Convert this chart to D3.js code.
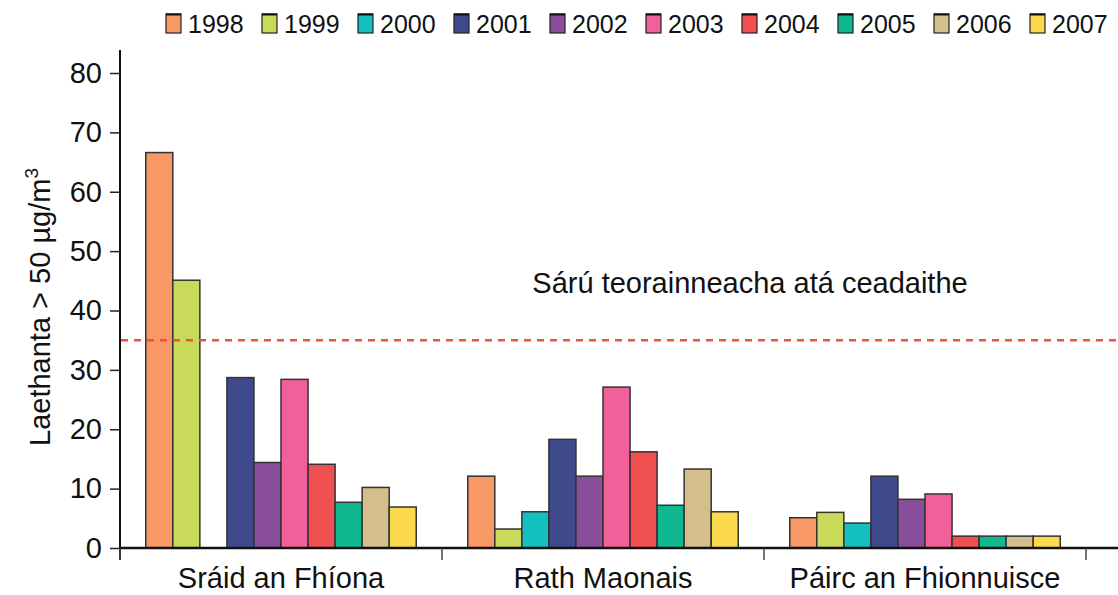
<!DOCTYPE html>
<html>
<head>
<meta charset="utf-8">
<script src="https://cdn.jsdelivr.net/npm/d3@7"></script>
<style>
  body { margin: 0; background: #fff; }
  svg { display: block; font-family: "Liberation Sans", Arial, sans-serif; }
</style>
</head>
<body>
<svg id="chart"></svg>
<script>
const sites = ['Sráid an Fhíona', 'Rath Maonais', 'Páirc an Fhionnuisce'];
const years = ['1998', '1999', '2000', '2001', '2002', '2003', '2004', '2005', '2006', '2007'];
const colors = ['#f79866', '#c9d95a', '#14bfc0', '#3f4a8c', '#8a4f9c', '#f1609a', '#f15050', '#10b890', '#d4bf8c', '#fcd84c'];
// days over 50 µg/m3, one row per site, one value per year
const sraidAnFhiona = [66.6, 45.1, 0, 28.7, 14.4, 28.4, 14.1, 7.7, 10.2, 6.9];
const rathMaonais = [12.1, 3.2, 6.1, 18.3, 12.1, 27.1, 16.2, 7.2, 13.3, 6.1];
const pairc = [5.1, 6.0, 4.2, 12.1, 8.2, 9.1, 2.0, 2.0, 2.0, 2.0];
const values = [sraidAnFhiona, rathMaonais, pairc];
const limit = 35;
const yTicks = [0, 10, 20, 30, 40, 50, 60, 70, 80];

const width = 1118;
const height = 595;
const font = '"Liberation Sans", Arial, sans-serif';
const svg = d3.select('#chart').attr('width', width).attr('height', height);

const x0 = d3.scaleBand().domain(sites).range([120, 1086]).padding(0);
const x1 = d3.scaleBand().domain(years)
  .range([x0.bandwidth() * 0.08, x0.bandwidth() * 0.92]).padding(0);
const y = d3.scaleLinear().domain([0, 80]).range([548, 73]);
const color = d3.scaleOrdinal().domain(years).range(colors);

// bars
const groups = svg.append('g').selectAll('g')
  .data(sites)
  .join('g')
  .attr('transform', (d) => `translate(${x0(d)},0)`);

groups.selectAll('rect')
  .data((d, i) => years.map((yr, j) => ({ year: yr, value: values[i][j] })))
  .join('rect')
  .filter((d) => d.value > 0)
  .attr('x', (d) => x1(d.year))
  .attr('y', (d) => y(d.value))
  .attr('width', x1.bandwidth())
  .attr('height', (d) => y(0) - y(d.value))
  .attr('fill', (d) => color(d.year))
  .attr('stroke', '#333')
  .attr('stroke-width', 1.5);

// y axis
const yAxis = svg.append('g')
  .attr('transform', 'translate(120,0)')
  .call(d3.axisLeft(y).tickValues(yTicks).tickSize(10).tickPadding(8));
yAxis.select('.domain').remove();
yAxis.selectAll('.tick line').attr('stroke', '#222').attr('stroke-width', 1.5);
yAxis.selectAll('.tick text').attr('font-size', 29).attr('fill', '#111')
  .attr('font-family', font);
svg.append('line')
  .attr('x1', 120).attr('x2', 120).attr('y1', 50).attr('y2', 560)
  .attr('stroke', '#111').attr('stroke-width', 2);

// x axis
svg.append('line')
  .attr('x1', 120).attr('x2', width).attr('y1', y(0)).attr('y2', y(0))
  .attr('stroke', '#111').attr('stroke-width', 2.5);
const bounds = sites.map((s) => x0(s)).concat([x0(sites[sites.length - 1]) + x0.bandwidth()]);
svg.append('g').selectAll('line')
  .data(bounds)
  .join('line')
  .attr('x1', (d) => d).attr('x2', (d) => d)
  .attr('y1', y(0)).attr('y2', y(0) + 12)
  .attr('stroke', '#444').attr('stroke-width', 1.5);
const xAxis = svg.append('g')
  .attr('transform', `translate(0,${y(0)})`)
  .call(d3.axisBottom(x0).tickSize(0).tickPadding(19));
xAxis.select('.domain').remove();
xAxis.selectAll('.tick text').attr('font-size', 29).attr('fill', '#111')
  .attr('font-family', font);

// y axis title
const yTitle = svg.append('text')
  .attr('transform', 'translate(50,307) rotate(-90)')
  .attr('text-anchor', 'middle')
  .attr('font-size', 29)
  .attr('fill', '#111');
yTitle.append('tspan').text('Laethanta > 50 µg/m');
yTitle.append('tspan').attr('dy', -12).attr('font-size', 19).text('3');

// limit line
svg.append('line')
  .attr('x1', 121).attr('x2', width).attr('y1', y(limit)).attr('y2', y(limit))
  .attr('stroke', '#f0503c').attr('stroke-width', 2.5)
  .attr('stroke-dasharray', '7,6');
svg.append('text')
  .attr('x', 750).attr('y', 293)
  .attr('text-anchor', 'middle')
  .attr('font-size', 29)
  .attr('fill', '#111')
  .text('Sárú teorainneacha atá ceadaithe');

// legend
const legend = svg.append('g').selectAll('g')
  .data(years)
  .join('g')
  .attr('transform', (d, i) => `translate(${166 + i * 96},14)`);
legend.append('rect')
  .attr('width', 15).attr('height', 19)
  .attr('fill', (d) => color(d))
  .attr('stroke', '#222').attr('stroke-width', 1.2);
legend.append('line')
  .attr('x1', 0).attr('x2', 15).attr('y1', 0.5).attr('y2', 0.5)
  .attr('stroke', '#111').attr('stroke-width', 2);
legend.append('text')
  .attr('x', 22).attr('y', 19)
  .attr('font-size', 25)
  .attr('fill', '#111')
  .text((d) => d);
</script>
</body>
</html>
